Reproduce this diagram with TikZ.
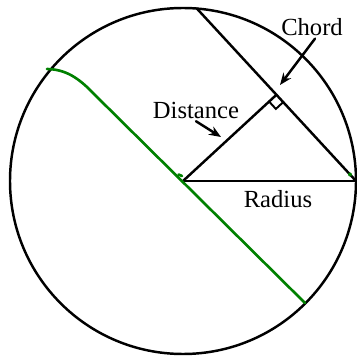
\documentclass[tikz,border=0pt]{standalone}
\usepackage{fontspec}
\setmainfont{Liberation Serif}
\usepackage{tikz}
\usetikzlibrary{arrows.meta,calc}

\begin{document}
\begin{tikzpicture}[>={Stealth[length=2.4mm,width=1.9mm]},line cap=round,line width=1.4pt,
  lbl/.style={font=\fontsize{14}{16}\selectfont,inner sep=1pt},
  pen/.style={green!50!black,line width=1.5pt}]
\useasboundingbox (0,0) rectangle (7.12,7.16);
\coordinate (O) at (3.66,3.54);
\coordinate (A) at ($(O)+(85.4:3.46)$);
\coordinate (B) at ($(O)+(0:3.46)$);
\coordinate (M) at ($(A)!0.5!(B)$);
\draw (O) circle (3.46);
\draw (A) -- (B);
\draw (O) -- (B);
\draw (O) -- (M);
% right angle
\draw[line width=1.1pt] (M) ++(222.7:0.2) -- ++(-47.3:0.2) -- ++(42.7:0.2);
% green stroke
\draw[pen] (0.94,5.78) .. controls (1.3,5.77) and (1.55,5.63) .. (1.9,5.26) -- (6.10,1.10);
\draw[pen] (3.57,3.67) -- (3.64,3.64);
\fill[green!50!black] (7.0,3.67) circle (0.04);
% labels
\node[lbl] (chordlbl) at (6.24,6.62) {Chord};
\node[lbl] (distlbl) at (3.92,4.96) {Distance};
\node[lbl] (radlbl) at (5.56,3.18) {Radius};
\coordinate (ct) at (5.60,5.46);
\coordinate (dt) at (4.42,4.42);
\draw[->] (chordlbl.south) ++(0.06,0) -- (ct);
\draw[->] (distlbl.south) -- (dt);
\end{tikzpicture}
\end{document}
